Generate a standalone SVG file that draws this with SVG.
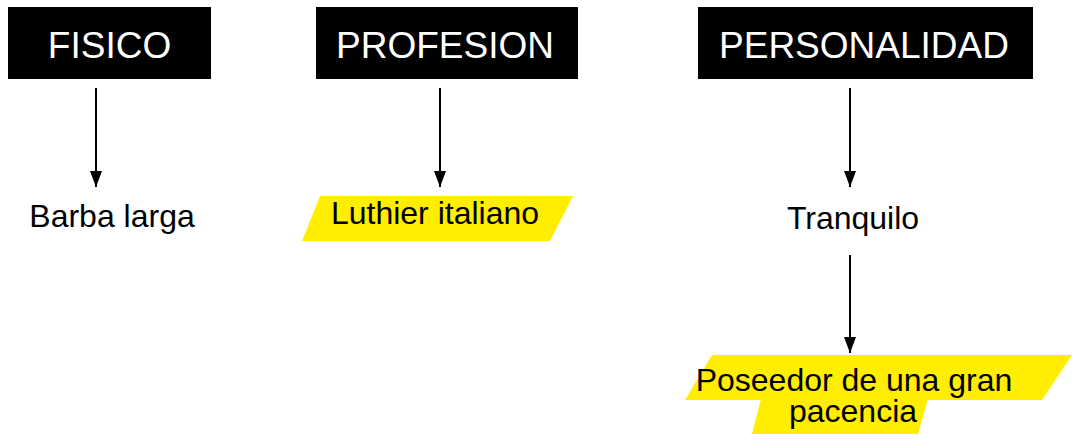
<svg xmlns="http://www.w3.org/2000/svg" width="1072" height="439" viewBox="0 0 1072 439">
<style>
.hdr{fill:#000}
.ht{fill:#fff;font-family:"Liberation Sans",Arial,sans-serif;font-size:37px;text-anchor:middle}
.bt{fill:#000;font-family:"Liberation Sans",Arial,sans-serif;font-size:32px;text-anchor:middle}
.hl{fill:#ffee00}
.c{stroke:#000;stroke-width:2;fill:none;marker-end:url(#ah)}
</style>
<defs>
<marker id="ah" markerUnits="userSpaceOnUse" markerWidth="16" markerHeight="12" refX="16" refY="6" orient="auto" viewBox="0 0 16 12">
<path d="M0,0 L16,6 L0,12 Z" fill="#000"/>
</marker>
</defs>
<rect width="1072" height="439" fill="#fff"/>
<g id="fisico"><rect class="hdr" x="8" y="7" width="203" height="72"/><text class="ht" x="109.5" y="58">FISICO</text></g>
<g id="profesion"><rect class="hdr" x="316" y="7" width="262" height="72"/><text class="ht" x="445" y="58">PROFESION</text></g>
<g id="personalidad"><rect class="hdr" x="698" y="7" width="335" height="72"/><text class="ht" x="864" y="58">PERSONALIDAD</text></g>
<g id="barba"><text class="bt" x="112" y="227">Barba larga</text></g>
<g id="luthier"><polygon class="hl" points="320,196 573,196 550,241 302,241"/><text class="bt" x="435" y="224">Luthier italiano</text></g>
<g id="tranquilo"><text class="bt" x="853" y="229">Tranquilo</text></g>
<g id="poseedor"><polygon class="hl" points="712,355 1072,355 1042,400 685,400"/><polygon class="hl" points="761,399 928,399 918,434 752,434"/><text class="bt"><tspan x="854" y="391">Poseedor de una gran</tspan><tspan x="853" y="422">pacencia</tspan></text></g>
<g id="connectors">
<line class="c" x1="96" y1="88" x2="96" y2="187"/>
<line class="c" x1="440" y1="88" x2="440" y2="187"/>
<line class="c" x1="850" y1="88" x2="850" y2="187"/>
<line class="c" x1="850" y1="255" x2="850" y2="353"/>
</g>
</svg>
